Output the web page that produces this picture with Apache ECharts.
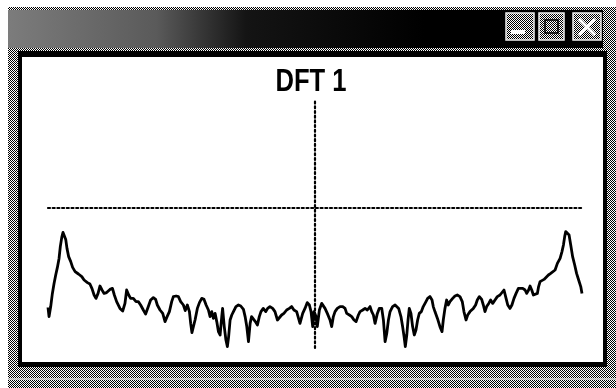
<!DOCTYPE html>
<html>
<head>
<meta charset="utf-8">
<script src="https://cdn.jsdelivr.net/npm/echarts@6/dist/echarts.min.js"></script>
<style>
  html, body { margin: 0; padding: 0; background: #fff; }
  #chart { width: 616px; height: 388px; }
</style>
</head>
<body>
<div id="chart"></div>
<script>
// ---- data (frequency bin, magnitude in dB) ----
const titleText = 'DFT 1';
const freqs = [
  -128, -127.5, -126.7, -125.9, -125.1, -124.3, -123.5, -122.7, -122.1, -121.4,
  -120.8, -120.2, -119.5, -118.9, -118.1, -117.1, -116.2, -115.0, -113.4, -111.8,
  -110.7, -109.1, -107.9, -106.9, -105.9, -105.0, -104.0, -103.1, -102.1, -101.1,
  -99.9, -98.3, -97.1, -96.2, -95.1, -93.5, -92.2, -91.1, -90.3, -89.3,
  -88.4, -87.1, -85.8, -84.7, -83.6, -82.3, -81.2, -79.9, -78.8, -77.5,
  -76.4, -75.6, -74.3, -73.0, -71.9, -70.9, -69.8, -68.7, -67.9, -66.6,
  -65.5, -64.4, -63.1, -62.2, -61.2, -60.2, -59.6, -59.0, -58.3, -57.5,
  -56.4, -55.4, -54.3, -53.2, -52.2, -51.1, -50.3, -49.5, -48.7, -47.9,
  -47.1, -46.3, -45.5, -44.7, -44.3, -43.5, -42.7, -42.0, -41.4, -40.7,
  -39.9, -39.1, -37.9, -36.7, -35.6, -34.3, -33.5, -32.7, -31.9, -31.1,
  -30.4, -29.6, -28.6, -27.6, -26.7, -25.9, -24.8, -23.6, -22.7, -21.6,
  -20.3, -19.2, -18.0, -17.1, -16.0, -14.9, -13.6, -12.3, -11.2, -10.1,
  -8.8,
  -7.2, -5.9, -4.8, -3.7, -2.7, -1.9, -1.1, -0.5, 0.5, 1.1,
  2.1, 3.2, 4.0, 4.8, 5.9, 7.2, 8.0, 8.8, 9.6, 10.7,
  12.0, 13.3, 14.4, 15.2, 16.5, 17.6, 18.7, 19.7, 20.8, 21.6,
  22.9, 24.0, 25.1, 26.4, 27.2, 28.0, 28.8, 29.9, 30.8, 32.0,
  32.8, 33.6, 34.4, 35.2, 36.0, 37.2, 38.4, 39.2, 40.1, 41.2,
  42.0, 42.7, 43.3, 44.0, 44.6, 45.2, 46.0, 46.8, 47.6, 48.4,
  49.2, 50.0, 51.0, 51.9, 53.2, 54.0, 55.1, 56.1, 56.7, 57.5,
  58.7, 59.9, 60.9, 61.5, 62.3, 63.1, 63.9, 64.7, 66.0, 67.1,
  68.2, 69.5, 70.6, 71.4, 72.4, 73.2, 74.3, 75.9, 77.0, 77.8,
  78.8, 79.9, 80.7, 81.5, 82.3, 83.3, 84.2, 85.2, 86.3, 87.4,
  88.7, 89.5, 90.6, 91.6, 92.4, 93.5, 94.4, 95.4, 96.4, 97.5,
  98.3, 99.6, 100.7, 101.5, 102.4, 103.1, 103.9, 104.7, 105.6, 106.6,
  107.2, 107.9, 108.8, 109.8, 110.7, 111.9, 113.0, 113.9, 115.1, 116.2,
  117.5, 118.4, 119.1, 119.7, 120.2, 121.1, 121.8, 122.6, 123.5, 124.5,
  125.4, 126.4, 127.4, 128
];
const mags = [
  -49.7, -54.3, -49.3, -42.7, -37.7, -33.5, -29.7, -25.2, -19.3, -14.7,
  -12.2, -12.7, -15.7, -20.2, -24.3, -26.8, -29.7, -31.8, -33.0, -34.3,
  -36.0, -37.3, -38.0, -40.3, -43.5, -45.2, -42.7, -39.0, -41.0, -42.7,
  -42.3, -40.7, -40.2, -43.5, -46.8, -50.2, -51.5, -47.7, -41.0, -43.5,
  -45.2, -45.2, -46.8, -46.8, -48.5, -51.0, -53.0, -49.3, -46.0, -44.8,
  -45.7, -48.5, -51.0, -52.7, -56.8, -54.3, -51.8, -46.8, -44.3, -44.0,
  -44.3, -46.8, -48.5, -51.3, -48.5, -51.8, -57.7, -62.3, -59.3, -56.0,
  -50.2, -47.3, -45.2, -45.7, -48.5, -51.0, -54.3, -51.8, -55.2, -52.7,
  -56.8, -61.8, -63.5, -54.3, -50.2, -59.3, -66.0, -69.3, -64.3, -56.0,
  -53.5, -51.8, -49.3, -48.5, -49.0, -50.7, -54.3, -59.3, -66.8, -57.7,
  -54.3, -53.5, -56.8, -58.5, -54.3, -51.8, -50.2, -51.8, -50.2, -49.3,
  -50.2, -51.8, -56.0, -55.2, -53.5, -52.7, -51.0, -50.2, -49.3, -51.0,
  -51.8,
  -57.7, -52.7, -50.2, -47.3, -48.5, -51.8, -59.3, -51.8, -54.3, -59.3,
  -51.0, -47.7, -46.8, -50.2, -52.7, -56.0, -59.3, -54.3, -51.8, -50.2,
  -49.3, -49.3, -50.2, -52.7, -53.5, -54.3, -56.0, -56.8, -53.5, -51.8,
  -51.0, -50.2, -51.0, -49.3, -51.8, -53.5, -57.7, -52.7, -50.2, -50.2,
  -56.0, -66.8, -62.7, -56.0, -51.8, -49.3, -48.5, -48.5, -50.2, -54.3,
  -59.3, -64.3, -69.3, -63.5, -56.0, -50.2, -52.7, -59.3, -63.5, -61.0,
  -56.0, -52.7, -51.8, -49.3, -46.8, -45.2, -44.3, -46.0, -49.3, -51.8,
  -55.2, -59.3, -61.8, -56.0, -50.2, -46.0, -48.5, -46.8, -45.2, -44.0,
  -43.5, -44.3, -46.8, -51.8, -56.0, -53.5, -51.8, -50.2, -48.5, -46.0,
  -44.3, -45.7, -48.5, -51.8, -49.3, -47.7, -46.0, -47.7, -46.0, -44.3,
  -43.5, -42.7, -41.0, -45.2, -48.5, -50.2, -48.5, -45.2, -42.7, -40.2,
  -39.3, -40.2, -41.0, -42.7, -41.0, -39.0, -41.0, -43.5, -44.3, -42.7,
  -39.3, -36.8, -36.0, -35.7, -35.2, -33.5, -32.7, -32.3, -31.0, -27.7,
  -25.2, -21.8, -18.5, -14.3, -11.8, -11.8, -13.5, -18.5, -24.3, -28.5,
  -32.7, -36.0, -39.3, -42.7
];
const xRange = [-128, 128];
const yRange = [-70, 54];

// ---- helpers ----
const points = freqs.map((f, i) => [f, mags[i]]);

const patCanvas = document.createElement('canvas');
patCanvas.width = 2; patCanvas.height = 2;
const pctx = patCanvas.getContext('2d');
pctx.fillStyle = '#fff'; pctx.fillRect(0, 0, 2, 2);
pctx.fillStyle = '#000'; pctx.fillRect(0, 0, 1, 1); pctx.fillRect(1, 1, 1, 1);
const dither = { image: patCanvas, repeat: 'repeat' };

const chart = echarts.init(document.getElementById('chart'), null, { renderer: 'canvas' });

const frame = [
  // dithered window frame
  { type: 'rect', z: -20, shape: { x: 8, y: 7, width: 608, height: 381 }, style: { fill: dither } },
  // title bar
  { type: 'rect', z: -19, shape: { x: 8, y: 10, width: 595, height: 38 },
    style: { fill: new echarts.graphic.LinearGradient(0, 0, 1, 0, [
      { offset: 0, color: '#7c7c7c' },
      { offset: 0.25, color: '#5a5a5a' },
      { offset: 0.4, color: '#141414' },
      { offset: 0.7, color: '#000000' },
      { offset: 1, color: '#000000' }
    ]) } },
  // black inner border
  { type: 'rect', z: -18, shape: { x: 18, y: 51, width: 589, height: 316 }, style: { fill: '#000' } },
  // white client area
  { type: 'rect', z: -17, shape: { x: 22, y: 57, width: 581, height: 305 }, style: { fill: '#fff' } },
  // light line in bottom border
  { type: 'line', z: -17, shape: { x1: 8, y1: 379, x2: 616, y2: 379 }, style: { stroke: '#d8d8d8', lineWidth: 1.5 } },
  // buttons
  { type: 'rect', z: -16, shape: { x: 506, y: 13, width: 28, height: 27 }, style: { fill: dither, stroke: '#eee', lineWidth: 1.5 } },
  { type: 'rect', z: -15, shape: { x: 511, y: 30, width: 14, height: 4 }, style: { fill: '#fff' } },
  { type: 'rect', z: -16, shape: { x: 539, y: 13, width: 25, height: 27 }, style: { fill: dither, stroke: '#eee', lineWidth: 1.5 } },
  { type: 'rect', z: -15, shape: { x: 545, y: 20, width: 13, height: 13 }, style: { fill: dither, stroke: '#000', lineWidth: 1.5 } },
  { type: 'rect', z: -16, shape: { x: 573, y: 13, width: 28, height: 27 }, style: { fill: dither, stroke: '#eee', lineWidth: 1.5 } },
  { type: 'line', z: -15, shape: { x1: 579, y1: 19, x2: 595, y2: 35 }, style: { stroke: '#fff', lineWidth: 3 } },
  { type: 'line', z: -15, shape: { x1: 595, y1: 19, x2: 579, y2: 35 }, style: { stroke: '#fff', lineWidth: 3 } },
  // chart title (condensed bold)
  { type: 'text', z: 10, x: 311, y: 82, scaleX: 0.8,
    style: { text: titleText, font: 'bold 32px "Liberation Sans", Arial, sans-serif',
             fill: '#000', align: 'center', verticalAlign: 'middle' } }
];

const dotted = { color: '#000', width: 2.2, type: [2, 2.7] };

chart.setOption({
  animation: false,
  backgroundColor: 'transparent',
  graphic: { elements: frame },
  grid: { left: 48, right: 34, top: 100, bottom: 40 },
  xAxis: {
    type: 'value', min: xRange[0], max: xRange[1],
    axisLine: { show: true, onZero: true, lineStyle: dotted },
    axisTick: { show: false }, axisLabel: { show: false }, splitLine: { show: false }
  },
  yAxis: {
    type: 'value', min: yRange[0], max: yRange[1],
    axisLine: { show: true, onZero: true, lineStyle: dotted },
    axisTick: { show: false }, axisLabel: { show: false }, splitLine: { show: false }
  },
  series: [{
    type: 'line',
    data: points,
    showSymbol: false,
    symbol: 'none',
    smooth: false,
    lineStyle: { color: '#000', width: 2.8, join: 'round' }
  }]
});
</script>
</body>
</html>
